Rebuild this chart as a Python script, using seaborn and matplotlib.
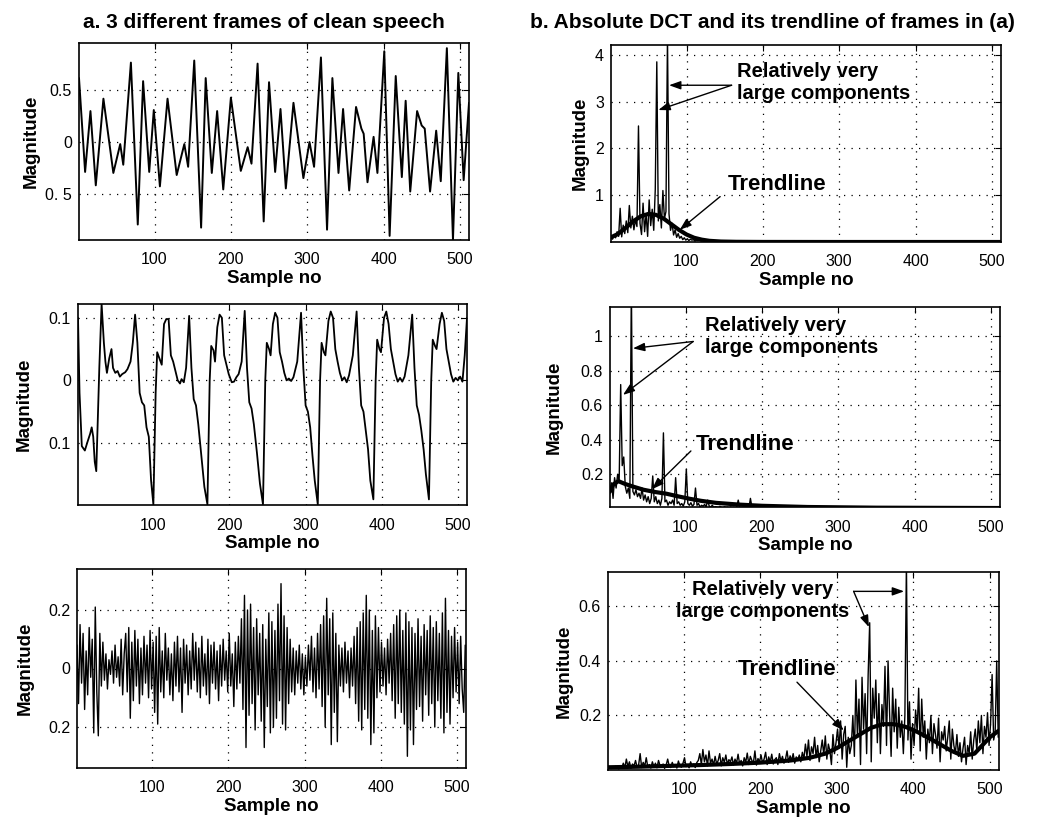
import numpy as np
import matplotlib
matplotlib.use("Agg")
import matplotlib.pyplot as plt
import seaborn as sns

sns.set_style("white")
plt.rcParams["font.family"] = ["Liberation Sans", "DejaVu Sans"]
plt.rcParams["text.color"] = "black"
plt.rcParams["axes.labelcolor"] = "black"
plt.rcParams["xtick.color"] = "black"
plt.rcParams["ytick.color"] = "black"

# ---------------- data ----------------
# (a) frame 1: clean voiced speech, turning points (sample, value)
tl_x = [1, 9, 16, 23, 33, 46, 55, 59, 69, 78, 85, 93, 99, 107, 117, 129, 139, 144,
        152, 161, 167, 175, 182, 190, 200, 213, 222, 227, 235, 243, 250, 258, 265,
        272, 282, 295, 303, 309, 318, 326, 333, 341, 347, 355, 364, 371, 374, 379,
        387, 392, 401, 408, 416, 424, 429, 435, 444, 450, 454, 461, 469, 475, 483,
        491, 498, 505, 512]
tl_y = [0.62, -0.29, 0.30, -0.42, 0.42, -0.30, -0.02, -0.22, 0.77, -0.80, 0.59, -0.29,
        0.31, -0.43, 0.42, -0.32, -0.02, -0.24, 0.79, -0.83, 0.62, -0.30, 0.30, -0.46,
        0.43, -0.28, -0.05, -0.21, 0.76, -0.77, 0.58, -0.29, 0.32, -0.45, 0.38, -0.35,
        0.00, -0.24, 0.82, -0.85, 0.62, -0.30, 0.32, -0.47, 0.34, 0.13, 0.08, -0.39,
        0.05, -0.30, 0.88, -0.91, 0.64, -0.34, 0.40, -0.48, 0.30, 0.16, 0.13, -0.48,
        0.11, -0.38, 0.91, -0.95, 0.67, -0.37, 0.38]

# (a) frame 2: periodic voiced speech (sample, value)
ml_x = [1, 3, 6, 10, 13, 17, 19, 21, 23, 25, 29, 32, 35, 37, 39, 42, 45, 47, 50, 53,
        56, 59, 63, 66, 70, 73, 76, 79, 82, 85, 88, 91, 94, 97, 100,
        103, 105, 108, 111, 114, 117, 120, 123, 126, 129, 132, 135, 137, 140, 143,
        147, 150, 153, 156, 159, 163, 167, 171,
        174, 176, 179, 181, 184, 187, 190, 193, 196, 199, 203, 206, 209, 212, 216,
        220, 223, 226, 229, 232, 236, 240, 244,
        247, 249, 252, 254, 257, 260, 263, 266, 269, 272, 275, 278, 281, 284, 289,
        294, 297, 300, 303, 306, 309, 312, 316,
        319, 321, 324, 326, 330, 333, 336, 339, 342, 345, 348, 351, 354, 357, 362,
        367, 370, 373, 376, 379, 382, 385, 389,
        392, 394, 397, 399, 403, 406, 409, 412, 415, 418, 421, 424, 427, 430, 435,
        440, 443, 446, 449, 452, 455, 458, 462,
        465, 467, 470, 472, 476, 479, 482, 485, 488, 491, 494, 497, 500, 503, 506,
        509, 512]
ml_y = [0.100, -0.020, -0.105, -0.112, -0.100, -0.085, -0.075, -0.090, -0.130, -0.145,
        0.020, 0.122, 0.060, 0.030, 0.012, 0.035, 0.050, 0.020, 0.012, 0.015, 0.006,
        0.010, 0.013, 0.018, 0.030, 0.060, 0.105, 0.060, -0.020, -0.035, -0.040,
        -0.075, -0.090, -0.160, -0.198,
        -0.020, 0.045, 0.035, 0.025, 0.090, 0.098, 0.098, 0.040, 0.030, 0.015, 0.000,
        -0.005, 0.002, -0.003, 0.020, 0.103, 0.020, -0.030, -0.040, -0.070, -0.120,
        -0.170, -0.198,
        0.000, 0.055, 0.048, 0.030, 0.085, 0.105, 0.100, 0.040, 0.025, 0.010, -0.003,
        -0.002, 0.005, 0.010, 0.030, 0.111, 0.020, -0.035, -0.045, -0.070, -0.115,
        -0.165, -0.198,
        0.000, 0.060, 0.050, 0.040, 0.090, 0.108, 0.100, 0.045, 0.030, 0.012, 0.000,
        0.003, -0.001, 0.005, 0.030, 0.108, 0.020, -0.040, -0.050, -0.075, -0.120,
        -0.160, -0.198,
        0.000, 0.060, 0.045, 0.040, 0.095, 0.110, 0.100, 0.050, 0.030, 0.012, 0.000,
        0.005, -0.003, 0.008, 0.040, 0.110, 0.020, -0.040, -0.050, -0.080, -0.110,
        -0.160, -0.190,
        0.000, 0.065, 0.050, 0.045, 0.100, 0.110, 0.090, 0.050, 0.030, 0.010, -0.002,
        0.004, -0.002, 0.006, 0.040, 0.105, 0.020, -0.040, -0.055, -0.080, -0.110,
        -0.150, -0.190,
        0.000, 0.065, 0.055, 0.050, 0.090, 0.108, 0.095, 0.050, 0.030, 0.010, -0.002,
        0.004, 0.000, 0.006, -0.002, 0.040, 0.100]

# (a) frame 3: unvoiced speech, every 2nd sample, in 1/100
bl_vals = [8, -12, 15, -5, 12, -14, 6, -9, 14, -3, 10, -22, 21, -8, -23, 12,
           -6, 9, -4, 5, -7, 3, -2, 6, -5, 8, -3, 4, -6, 10, -9, 5,
           12, -8, 14, -17, 9, -11, 13, -6, 10, -12, 7, -9, 11, -5, 8, -10,
           13, -7, 9, -15, 11, -19, 14, -8, 6, -10, 12, -4, 7, -9, 5, -11,
           9, -6, 11, -8, 7, -15, 10, -5, 8, -9, 6, -7, 12, -4, 9, -8,
           7, -10, 11, -6, 5, -9, 10, -12, 8, -5, 9, -7, 6, -11, 8, -6,
           10, -4, 6, -8, 12, -6, 5, -13, 9, -7, 11, -5, 17, -14, 25, -27,
           20, -16, 22, -12, 14, -21, 17, -9, 12, -18, 15, -27, 10, -13, 19, -22,
           16, -20, 13, -17, 22, -11, 29, -19, 18, -21, 14, -12, 10, -8, 7, -9,
           6, -5, 8, -7, 5, -9, 4, -6, 8, -4, 11, -8, 7, -10, 12, -7,
           15, -13, 18, -20, 24, -9, 17, -26, 19, -15, 12, -25, 8, -6, 7, -8,
           9, -5, 6, -10, 7, -6, 11, -12, 14, -18, 16, -21, 19, -14, 25, -17,
           20, -26, 13, -22, 18, -10, 14, -8, 9, -6, 7, -9, 10, -5, 12, -11,
           15, -17, 18, -12, 20, -15, 13, -19, 19, -30, 16, -21, 14, -26, 12, -14,
           17, -13, 11, -18, 15, -9, 13, -16, 18, -12, 14, -20, 16, -11, 12, -17,
           19, -22, 24, -15, 13, -19, 11, -10, 14, -8, 9, -12, 11, -7, -15, 8]

# (b) |DCT| of frame 1: samples 1..159 step 2, then a quiet tail step 8 (1/100)
tr_head = [10, 6, 16, 9, 22, 12, 72, 11, 36, 18,
           45, 20, 78, 30, 55, 26, 48, 33, 248, 40,
           16, 83, 22, 60, 12, 90, 35, 70, 25, 112,
           385, 45, 80, 30, 110, 50, 65, 440, 60, 25,
           40, 15, 26, 10, 18, 8, 12, 5, 9, 4,
           7, 3, 6, 4, 5, 2, 4, 3, 5, 2,
           3, 2, 4, 1, 3, 2, 2, 1, 3, 1,
           2, 1, 2, 1, 1, 2, 1, 1, 2, 1]
tr_tail = [1, 2, 1, 1, 2, 1, 0, 1, 1, 2, 1, 1, 0, 1, 1, 1, 2, 1, 0, 1, 1, 1,
           0, 1, 1, 1, 1, 0, 1, 1, 1, 1, 0, 1, 1, 1, 0, 1, 1, 1, 1, 0, 1, 1]
tr_trend_x = [1, 10, 20, 30, 40, 50, 60, 70, 80, 90, 100, 110, 120, 130, 145, 165,
              200, 300, 400, 512]
tr_trend_y = [0.10, 0.17, 0.30, 0.44, 0.55, 0.60, 0.58, 0.50, 0.38, 0.26, 0.16, 0.09,
              0.05, 0.025, 0.01, 0.004, 0.001, 0.0, 0.0, 0.0]

# (b) |DCT| of frame 2: samples 1..199 step 2, then tail step 8 (1/1000)
mr_head = [90, 150, 60, 180, 120, 200, 160, 720, 250, 300,
           130, 90, 120, 60, 1300, 100, 80, 110, 70, 90,
           60, 120, 50, 80, 40, 70, 30, 60, 190, 40,
           70, 30, 50, 20, 60, 440, 40, 50, 20, 40,
           30, 50, 20, 180, 30, 40, 20, 30, 15, 40,
           230, 30, 20, 35, 15, 25, 120, 20, 30, 10,
           20, 15, 25, 10, 50, 15, 10, 20, 8, 12,
           10, 6, 14, 8, 5, 12, 7, 9, 4, 10,
           6, 8, 5, 9, 50, 7, 4, 8, 6, 5,
           9, 4, 60, 7, 5, 8, 4, 6, 5, 3]
mr_tail = [4, 6, 3, 5, 8, 4, 3, 6, 5, 4, 7, 3, 5, 4, 6, 3, 4, 5, 3, 6, 4, 3, 5, 4,
           3, 6, 4, 5, 3, 4, 5, 3, 4, 6, 3, 4, 5, 3, 4]
mr_trend_x = [1, 5, 12, 20, 30, 45, 60, 75, 90, 105, 120, 140, 170, 200, 260, 350, 512]
mr_trend_y = [0.10, 0.14, 0.16, 0.145, 0.13, 0.11, 0.097, 0.087, 0.072, 0.058, 0.046,
              0.034, 0.024, 0.017, 0.010, 0.006, 0.004]

# (b) |DCT| of frame 3: samples 1..511 step 2 (1/1000)
br_vals = [8, 12, 5, 10, 6, 14, 9, 4, 11, 7,
           25, 8, 40, 12, 30, 6, 22, 15, 35, 10,
           18, 60, 9, 28, 14, 45, 11, 20, 7, 30,
           12, 25, 8, 35, 16, 10, 22, 6, 18, 40,
           14, 9, 28, 12, 20, 7, 33, 15, 10, 25,
           45, 12, 18, 8, 30, 14, 22, 9, 27, 35,
           60, 20, 75, 30, 55, 15, 70, 25, 40, 18,
           50, 22, 35, 60, 15, 45, 28, 55, 20, 38,
           30, 48, 18, 40, 25, 58, 22, 35, 15, 45,
           28, 62, 20, 50, 35, 25, 70, 18, 42, 30,
           55, 25, 40, 65, 20, 48, 30, 58, 22, 38,
           45, 20, 60, 32, 50, 25, 40, 70, 28, 52,
           35, 60, 25, 48, 38, 55, 30, 65, 40, 95,
           50, 110, 35, 85, 60, 120, 45, 90, 30, 70,
           110, 55, 125, 40, 95, 70, 20, 130, 60, 100,
           150, 80, 180, 40, 130, 160, 10, 120, 60, 90,
           200, 50, 330, 120, 260, 20, 340, 150, 280, 60,
           350, 540, 30, 300, 190, 330, 100, 280, 60, 240,
           160, 380, 90, 400, 210, 50, 300, 140, 260, 80,
           230, 120, 180, 60, 200, 760, 110, 250, 40, 170,
           90, 220, 140, 300, 70, 260, 120, 180, 40, 150,
           100, 200, 60, 170, 130, 80, 190, 30, 140, 110,
           160, 70, 120, 180, 40, 150, 90, 60, 130, 50,
           100, 30, 80, 120, 20, 90, 60, 140, 40, 110,
           150, 70, 180, 100, 200, 60, 160, 120, 210, 90,
           170, 350, 110, 140, 400, 120]
br_trend_x = [1, 40, 80, 120, 160, 200, 240, 265, 285, 300, 315, 330, 345, 360, 375,
              390, 405, 420, 435, 450, 465, 480, 490, 500, 512]
br_trend_y = [0.010, 0.012, 0.015, 0.018, 0.022, 0.027, 0.035, 0.045, 0.060, 0.080,
              0.105, 0.130, 0.155, 0.168, 0.168, 0.158, 0.140, 0.118, 0.094, 0.070,
              0.052, 0.060, 0.090, 0.120, 0.145]

x_ticks = [100, 200, 300, 400, 500]

# ---------------- figure ----------------
W, H = 1039, 819
fig = plt.figure(figsize=(W / 100, H / 100), dpi=100)


def add_axes(left, top, right, bottom):
    return fig.add_axes([left / W, 1 - bottom / H, (right - left) / W, (bottom - top) / H])


ax_tl = add_axes(79, 43, 469, 240)
ax_tr = add_axes(611, 45, 1001, 242)
ax_ml = add_axes(78, 304, 467, 505)
ax_mr = add_axes(610, 307, 1000, 507)
ax_bl = add_axes(77, 569, 466, 768)
ax_br = add_axes(608, 572, 999, 770)


def trace(ax, x, y, lw):
    sns.lineplot(x=np.asarray(x, float), y=np.asarray(y, float), ax=ax, color="black",
                 linewidth=lw, estimator=None, sort=False, legend=False)


def style(ax, ylim, yticks, yticklabels, ylab_x):
    ax.set_xlim(1, 512)
    ax.set_ylim(*ylim)
    ax.set_xticks(x_ticks)
    ax.set_yticks(yticks)
    ax.set_yticklabels(yticklabels)
    ax.grid(True, color="black", linestyle=(0, (1, 5)), linewidth=0.9)
    for s in ax.spines.values():
        s.set_visible(True)
        s.set_color("black")
        s.set_linewidth(1.2)
    ax.tick_params(direction="in", length=4, width=0.8, top=True, right=True,
                   labelsize=11.5, colors="black")
    ax.tick_params(axis="x", pad=9)
    ax.tick_params(axis="y", pad=5)
    ax.set_xlabel("Sample no", fontsize=13.5, fontweight="bold", color="black")
    ax.set_ylabel("Magnitude", fontsize=13.5, fontweight="bold", color="black")
    ax.xaxis.set_label_coords(0.5, -0.15)
    ax.yaxis.set_label_coords(ylab_x, 0.5)


# left column: time signals
trace(ax_tl, tl_x, tl_y, 1.4)
style(ax_tl, (-0.95, 0.96), [-0.5, 0, 0.5], ["0. 5", "0", "0.5"], -0.10)

trace(ax_ml, ml_x, ml_y, 1.3)
style(ax_ml, (-0.199, 0.122), [-0.1, 0, 0.1], ["0.1", "0", "0.1"], -0.117)

bl_x = 1 + 2 * np.arange(len(bl_vals))
trace(ax_bl, bl_x, np.array(bl_vals) / 100, 1.0)
style(ax_bl, (-0.34, 0.34), [-0.2, 0, 0.2], ["0.2", "0", "0.2"], -0.112)

# right column: absolute DCT + trendline
tr_x = np.concatenate([1 + 2 * np.arange(len(tr_head)), 161 + 8 * np.arange(len(tr_tail))])
trace(ax_tr, tr_x, np.concatenate([tr_head, tr_tail]) / 100, 1.0)
trace(ax_tr, tr_trend_x, tr_trend_y, 3.0)
style(ax_tr, (0, 4.21), [1, 2, 3, 4], ["1", "2", "3", "4"], -0.056)

mr_x = np.concatenate([1 + 2 * np.arange(len(mr_head)), 201 + 8 * np.arange(len(mr_tail))])
trace(ax_mr, mr_x, np.concatenate([mr_head, mr_tail]) / 1000, 1.0)
trace(ax_mr, mr_trend_x, mr_trend_y, 3.0)
style(ax_mr, (0.01, 1.17), [0.2, 0.4, 0.6, 0.8, 1.0], ["0.2", "0.4", "0.6", "0.8", "1"], -0.121)

br_x = 1 + 2 * np.arange(len(br_vals))
trace(ax_br, br_x, np.array(br_vals) / 1000, 1.0)
trace(ax_br, br_trend_x, br_trend_y, 3.0)
style(ax_br, (0, 0.726), [0.2, 0.4, 0.6], ["0.2", "0.4", "0.6"], -0.09)

# ---------------- annotations ----------------
arrow = dict(arrowstyle="-|>,head_length=0.7,head_width=0.25", color="black", lw=1.0,
             shrinkA=0, shrinkB=0)
big_txt = "Relatively very\nlarge components"
kw_big = dict(fontsize=14.5, fontweight="bold", va="center", color="black")
kw_tr = dict(fontsize=16, fontweight="bold", ha="center", va="center", color="black")

# top-right
ax_tr.text(166, 3.41, big_txt, ha="left", multialignment="left", **kw_big)
ax_tr.annotate("", xy=(77, 3.35), xytext=(159, 3.35), arrowprops=arrow)
ax_tr.annotate("", xy=(63, 2.82), xytext=(159, 3.35), arrowprops=arrow)
ax_tr.text(218, 1.22, "Trendline", **kw_tr)
ax_tr.annotate("", xy=(91, 0.26), xytext=(144, 0.97), arrowprops=arrow)

# middle-right
ax_mr.text(125, 1.0, big_txt, ha="left", multialignment="left", **kw_big)
ax_mr.annotate("", xy=(31, 0.93), xytext=(110, 0.97), arrowprops=arrow)
ax_mr.annotate("", xy=(18, 0.66), xytext=(110, 0.97), arrowprops=arrow)
ax_mr.text(178, 0.37, "Trendline", **kw_tr)
ax_mr.annotate("", xy=(56, 0.113), xytext=(107, 0.335), arrowprops=arrow)

# bottom-right
ax_br.text(203, 0.62, big_txt, ha="center", multialignment="center", **kw_big)
ax_br.annotate("", xy=(388, 0.655), xytext=(322, 0.655), arrowprops=arrow)
ax_br.annotate("", xy=(342, 0.524), xytext=(322, 0.655), arrowprops=arrow)
ax_br.text(235, 0.368, "Trendline", **kw_tr)
ax_br.annotate("", xy=(309, 0.145), xytext=(248, 0.322), arrowprops=arrow)

# column titles
fig.text(264 / W, 1 - 23 / H, "a. 3 different frames of clean speech",
         fontsize=15, fontweight="bold", ha="center", va="center", color="black")
fig.text(772 / W, 1 - 23 / H, "b. Absolute DCT and its trendline of frames in (a)",
         fontsize=15, fontweight="bold", ha="center", va="center", color="black")

fig.savefig("out.png", dpi=100, facecolor="white")
